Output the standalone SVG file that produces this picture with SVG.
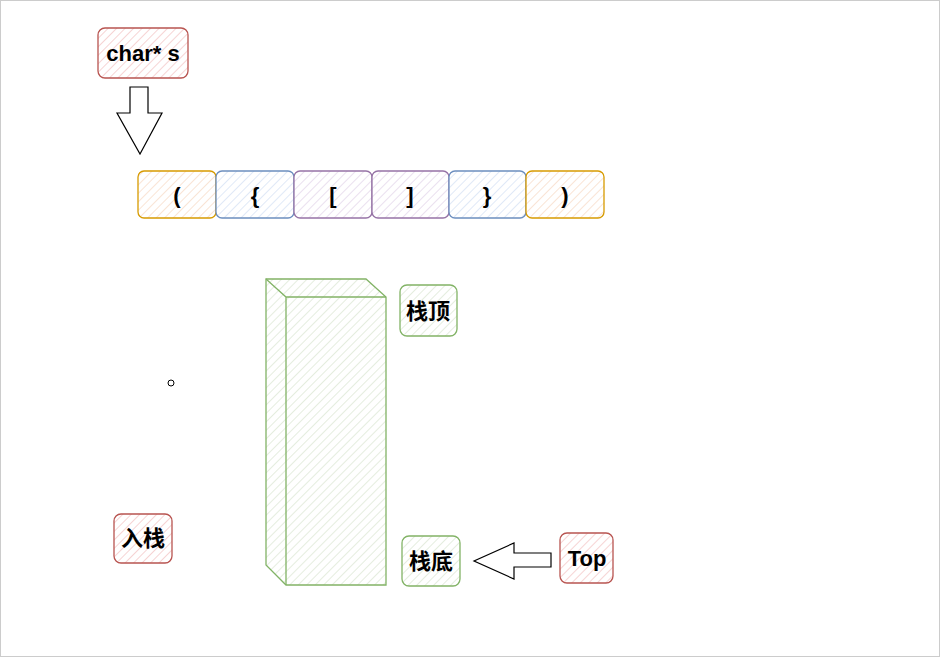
<svg xmlns="http://www.w3.org/2000/svg" width="940" height="657" viewBox="0 0 940 657">
<defs>
<pattern id="hr" width="6" height="6" patternUnits="userSpaceOnUse" patternTransform="rotate(45)"><rect width="6" height="6" fill="#fff"/><line x1="0" y1="0" x2="0" y2="6" stroke="#f3c6c6" stroke-width="1.5"/></pattern>
<pattern id="ho" width="6" height="6" patternUnits="userSpaceOnUse" patternTransform="rotate(45)"><rect width="6" height="6" fill="#fff"/><line x1="0" y1="0" x2="0" y2="6" stroke="#f8dcc8" stroke-width="1.5"/></pattern>
<pattern id="hb" width="6" height="6" patternUnits="userSpaceOnUse" patternTransform="rotate(45)"><rect width="6" height="6" fill="#fff"/><line x1="0" y1="0" x2="0" y2="6" stroke="#d6e2f5" stroke-width="1.5"/></pattern>
<pattern id="hp" width="6" height="6" patternUnits="userSpaceOnUse" patternTransform="rotate(45)"><rect width="6" height="6" fill="#fff"/><line x1="0" y1="0" x2="0" y2="6" stroke="#e3d6ea" stroke-width="1.5"/></pattern>
<pattern id="hg" width="6" height="6" patternUnits="userSpaceOnUse" patternTransform="rotate(45)"><rect width="6" height="6" fill="#fff"/><line x1="0" y1="0" x2="0" y2="6" stroke="#dde8d5" stroke-width="1.5"/></pattern>
</defs>
<style>
text{font-family:"Liberation Sans","Noto Sans CJK SC",sans-serif;font-weight:bold;font-size:22px;text-anchor:middle;dominant-baseline:central;fill:#000}
.r{fill:url(#hr);stroke:#b85450;stroke-width:1.3}
.o{fill:url(#ho);stroke:#d79b00;stroke-width:1.3}
.b{fill:url(#hb);stroke:#6c8ebf;stroke-width:1.3}
.p{fill:url(#hp);stroke:#9673a6;stroke-width:1.3}
.g{fill:url(#hg);stroke:#82b366;stroke-width:1.3}
.a{fill:#fff;stroke:#000;stroke-width:1.2}
</style>
<rect x="0.5" y="0.5" width="939" height="656" fill="#fff" stroke="#ccc"/>
<g id="chars"><rect class="r" x="98" y="28" width="90" height="50" rx="7"/><text x="143" y="53">char* s</text></g>
<g id="cells">
<g id="c1"><rect class="o" x="138" y="171" width="78" height="47" rx="6"/><text x="177" y="195">(</text></g>
<g id="c2"><rect class="b" x="216" y="171" width="78" height="47" rx="6"/><text x="255" y="195">{</text></g>
<g id="c3"><rect class="p" x="294" y="171" width="78" height="47" rx="6"/><text x="333" y="195">[</text></g>
<g id="c4"><rect class="p" x="372" y="171" width="77" height="47" rx="6"/><text x="410" y="195">]</text></g>
<g id="c5"><rect class="b" x="449" y="171" width="77" height="47" rx="6"/><text x="487" y="195">}</text></g>
<g id="c6"><rect class="o" x="526" y="171" width="78" height="47" rx="6"/><text x="565" y="195">)</text></g>
</g>
<g id="stack">
<path class="g" d="M266 279 L366 279 L386 297 L386 585 L286 585 L266 565 Z"/>
<path d="M266 279 L286 297 L386 297 M286 297 L286 585" fill="none" stroke="#82b366" stroke-width="1.3"/>
</g>
<g id="top1"><rect class="g" x="400" y="285" width="57" height="51" rx="7"/><text x="428" y="311">栈顶</text></g>
<g id="bot"><rect class="g" x="402" y="536" width="58" height="50" rx="7"/><text x="431" y="561">栈底</text></g>
<g id="topv"><rect class="r" x="560" y="533" width="53" height="50" rx="7"/><text x="587" y="558">Top</text></g>
<g id="push"><rect class="r" x="114" y="514" width="58" height="49" rx="7"/><text x="143" y="538">入栈</text></g>
<circle cx="171" cy="383" r="3" fill="#fff" stroke="#000"/>
<g id="connectors">
<path class="a" d="M130 87 L148 87 L148 113 L162 113 L140 154 L117 113 L130 113 Z"/>
<path class="a" d="M551 553 L514 553 L514 543 L474 561 L514 579 L514 567 L551 567 Z"/>
</g>
</svg>
